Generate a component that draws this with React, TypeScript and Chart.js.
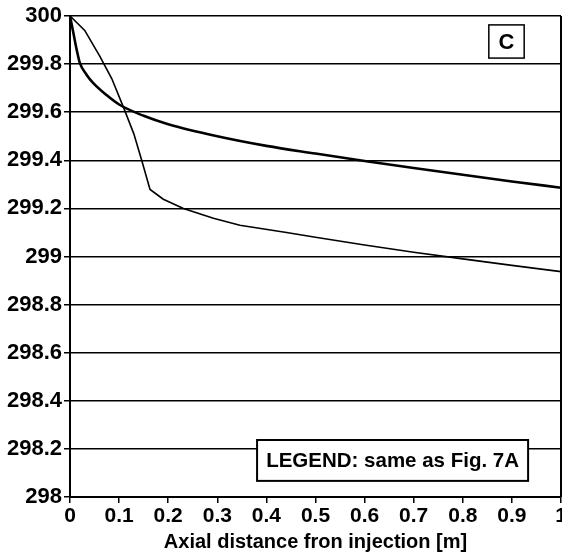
import React, { useEffect, useRef } from "react";
import { Chart, registerables } from "chart.js";

Chart.register(...registerables);

// Smooth (thick) curve
const xA = [0, 0.007, 0.0136, 0.02, 0.034, 0.047, 0.075, 0.1, 0.15, 0.2, 0.3, 0.4, 0.5, 0.6, 0.7, 0.8, 0.9, 1.0];
const yA = [300, 299.928, 299.86, 299.805, 299.755, 299.722, 299.67, 299.632, 299.585, 299.55, 299.5, 299.46, 299.428, 299.397, 299.368, 299.34, 299.312, 299.286];

// Thin curve with kink
const xB = [0, 0.03, 0.06, 0.085, 0.11, 0.13, 0.146, 0.163, 0.19, 0.231, 0.292, 0.346, 0.441, 0.5, 0.6, 0.7, 0.8, 0.9, 1.0];
const yB = [300, 299.94, 299.835, 299.74, 299.615, 299.51, 299.4, 299.279, 299.238, 299.2, 299.159, 299.13, 299.1, 299.08, 299.048, 299.018, 298.99, 298.963, 298.937];

const xTicks = [0, 0.1, 0.2, 0.3, 0.4, 0.5, 0.6, 0.7, 0.8, 0.9, 1];
const yTicks = [298, 298.2, 298.4, 298.6, 298.8, 299, 299.2, 299.4, 299.6, 299.8, 300];

const xTitle = "Axial distance fron injection [m]";
const panelLabel = "C";
const legendNote = "LEGEND: same as Fig. 7A";

const FONT = "'Liberation Sans', Arial, Helvetica, sans-serif";

const boxesPlugin = {
  id: "boxes",
  afterDraw(chart: any) {
    const ctx = chart.ctx;
    const { chartArea } = chart;
    const xs = chart.scales.x;
    const ys = chart.scales.y;
    ctx.save();
    // right frame line
    ctx.strokeStyle = "#000";
    ctx.lineWidth = 2;
    ctx.beginPath();
    ctx.moveTo(chartArea.right, chartArea.top);
    ctx.lineTo(chartArea.right, chartArea.bottom);
    ctx.stroke();

    // panel label box
    const cx0 = xs.getPixelForValue(0.853);
    const cx1 = xs.getPixelForValue(0.925);
    const cy0 = ys.getPixelForValue(299.963);
    const cy1 = ys.getPixelForValue(299.825);
    ctx.fillStyle = "#fff";
    ctx.fillRect(cx0, cy0, cx1 - cx0, cy1 - cy0);
    ctx.lineWidth = 1.5;
    ctx.strokeRect(cx0, cy0, cx1 - cx0, cy1 - cy0);
    ctx.fillStyle = "#000";
    ctx.font = `bold 22px ${FONT}`;
    ctx.textAlign = "center";
    ctx.textBaseline = "middle";
    ctx.fillText(panelLabel, (cx0 + cx1) / 2, (cy0 + cy1) / 2 + 1);

    // legend note box
    const lx0 = xs.getPixelForValue(0.381);
    const lx1 = xs.getPixelForValue(0.933);
    const ly0 = ys.getPixelForValue(298.237);
    const ly1 = ys.getPixelForValue(298.067);
    ctx.fillStyle = "#fff";
    ctx.fillRect(lx0, ly0, lx1 - lx0, ly1 - ly0);
    ctx.lineWidth = 2;
    ctx.strokeRect(lx0, ly0, lx1 - lx0, ly1 - ly0);
    ctx.fillStyle = "#000";
    ctx.font = `bold 20.5px ${FONT}`;
    ctx.textAlign = "center";
    ctx.textBaseline = "middle";
    ctx.fillText(legendNote, (lx0 + lx1) / 2, (ly0 + ly1) / 2 + 1);
    ctx.restore();
  },
};

export default function App() {
  const ref = useRef<HTMLCanvasElement | null>(null);
  useEffect(() => {
    if (!ref.current) return;
    const chart = new Chart(ref.current, {
      type: "line",
      data: {
        datasets: [
          {
            label: "A",
            data: xA.map((x, i) => ({ x, y: yA[i] })),
            borderColor: "#000",
            borderWidth: 2.6,
            pointRadius: 0,
            cubicInterpolationMode: "monotone",
            fill: false,
          },
          {
            label: "B",
            data: xB.map((x, i) => ({ x, y: yB[i] })),
            borderColor: "#000",
            borderWidth: 1.6,
            pointRadius: 0,
            tension: 0,
            fill: false,
          },
        ],
      },
      options: {
        responsive: false,
        animation: false,
        devicePixelRatio: 1,
        layout: { padding: { top: 16, right: 1, left: 0, bottom: 0 } },
        plugins: {
          legend: { display: false },
          tooltip: { enabled: false },
        },
        scales: {
          x: {
            type: "linear",
            min: 0,
            max: 1,
            afterBuildTicks: (s: any) => {
              s.ticks = xTicks.map((v) => ({ value: v }));
            },
            afterFit: (s: any) => {
              s.height = 59;
              s.paddingLeft = 0;
              s.paddingRight = 0;
            },
            ticks: {
              autoSkip: false,
              maxRotation: 0,
              color: "#000",
              padding: 1,
              font: { family: FONT, size: 21, weight: "bold" },
              callback: (v: any) => String(Number(Number(v).toFixed(1))),
            },
            grid: {
              drawOnChartArea: false,
              drawTicks: true,
              tickLength: 6,
              color: "#000",
              lineWidth: 1.5,
            },
            border: { display: true, color: "#000", width: 2 },
            title: {
              display: true,
              text: xTitle,
              color: "#000",
              font: { family: FONT, size: 20, weight: "bold" },
              padding: { top: 0, bottom: 2 },
            },
          },
          y: {
            type: "linear",
            min: 298,
            max: 300,
            afterBuildTicks: (s: any) => {
              s.ticks = yTicks.map((v) => ({ value: v }));
            },
            afterFit: (s: any) => {
              s.width = 70;
            },
            ticks: {
              color: "#000",
              padding: 2,
              font: { family: FONT, size: 22, weight: "bold" },
              callback: (v: any) => String(Number(Number(v).toFixed(1))),
            },
            grid: {
              drawOnChartArea: true,
              drawTicks: true,
              tickLength: 6,
              color: "#000",
              lineWidth: 1.5,
            },
            border: { display: true, color: "#000", width: 2 },
          },
        },
      },
      plugins: [boxesPlugin],
    } as any);
    return () => chart.destroy();
  }, []);
  return (
    <div style={{ position: "absolute", left: 0, top: 0, width: 562, height: 556, background: "#fff" }}>
      <canvas ref={ref} width={562} height={556} style={{ display: "block" }} />
    </div>
  );
}
